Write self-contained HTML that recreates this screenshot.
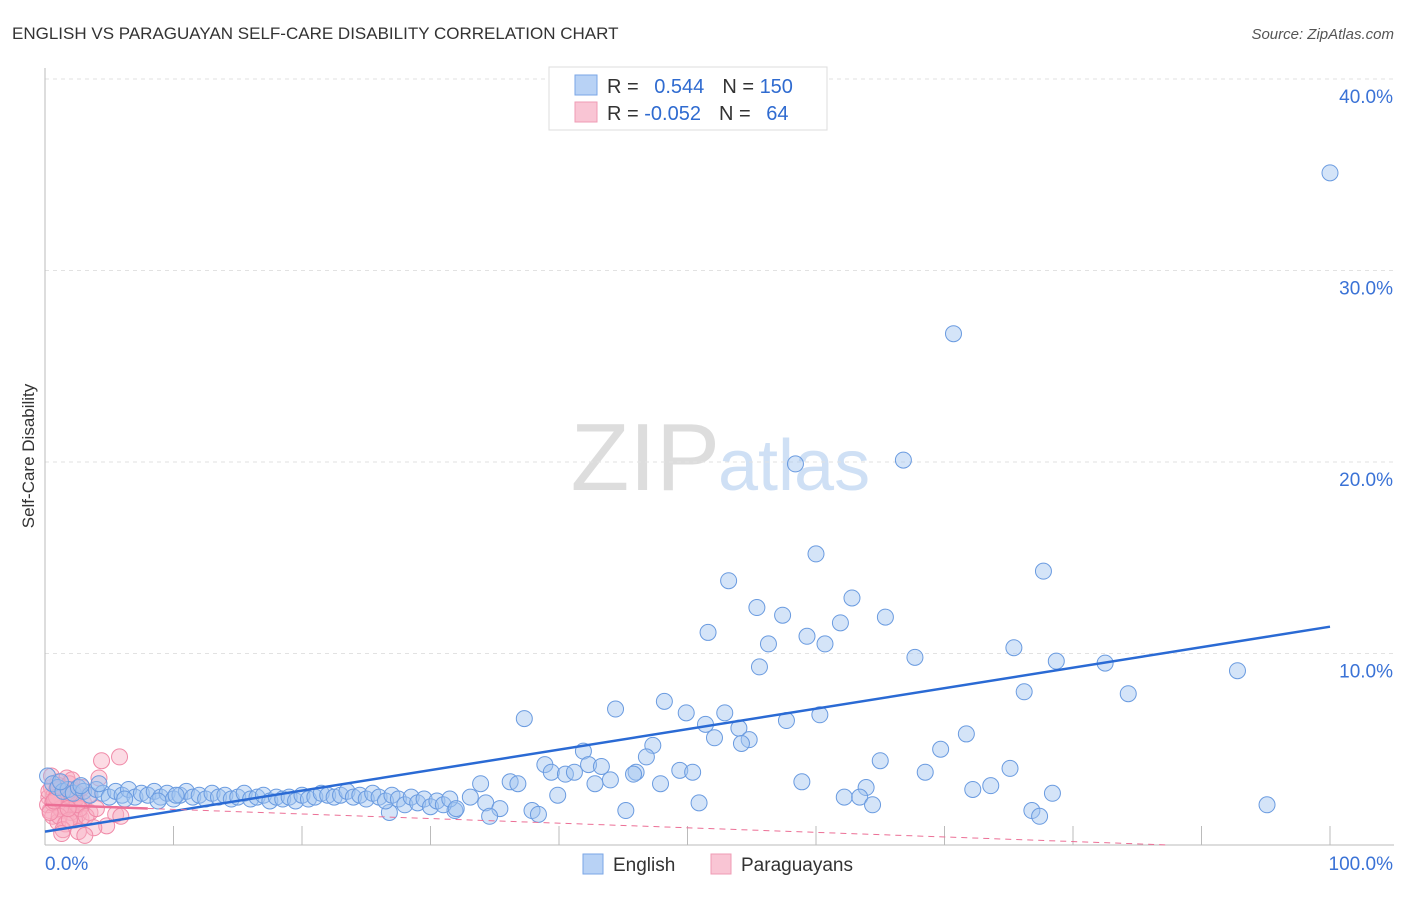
<!DOCTYPE html>
<html><head><meta charset="utf-8"><style>
body{margin:0;background:#fff;font-family:"Liberation Sans",sans-serif;}
svg text{font-family:"Liberation Sans",sans-serif;}
</style></head><body>
<svg id="chart" width="1406" height="892">
<text x="12" y="39" font-size="17" fill="#333">ENGLISH VS PARAGUAYAN SELF-CARE DISABILITY CORRELATION CHART</text>
<text x="1394" y="39" font-size="15" fill="#555" font-style="italic" text-anchor="end">Source: ZipAtlas.com</text>
<text x="34" y="456" font-size="17" fill="#333" transform="rotate(-90 34 456)" text-anchor="middle">Self-Care Disability</text>
<text x="720" y="490" font-size="96" fill="#ddd" text-anchor="end" font-family="Liberation Serif">ZIP</text>
<text x="718" y="490" font-size="72" fill="#cfe0f5">atlas</text>
<g id="grid"></g>
<g id="pts"></g>
<g id="lines"></g>
<g>
<rect x="549" y="67" width="278" height="63" fill="#fff" stroke="#ddd"/>
<rect x="575" y="75" width="22" height="20" fill="#b8d2f5" stroke="#7aa6e6"/>
<rect x="575" y="102" width="22" height="20" fill="#f9c5d4" stroke="#ef9bb4"/>
<text x="607" y="93" font-size="20" fill="#333">R = <tspan fill="#2f6bd0" dx="10">0.544</tspan><tspan fill="#333" dx="18">N = </tspan><tspan fill="#2f6bd0">150</tspan></text>
<text x="607" y="120" font-size="20" fill="#333">R = <tspan fill="#2f6bd0">-0.052</tspan><tspan fill="#333" dx="18">N = </tspan><tspan fill="#2f6bd0" dx="10">64</tspan></text>
</g>
<g>
<rect x="583" y="854" width="20" height="20" fill="#b8d2f5" stroke="#7aa6e6"/>
<text x="613" y="871" font-size="19" fill="#333">English</text>
<rect x="711" y="854" width="20" height="20" fill="#f9c5d4" stroke="#ef9bb4"/>
<text x="741" y="871" font-size="19" fill="#333">Paraguayans</text>
</g>
</svg>
<script>
const yTicks=[10,20,30,40];
const yTickLabels=["10.0%","20.0%","30.0%","40.0%"];
const xTickLabels=["0.0%","100.0%"];
const englishX=[100,70.7,58.4,66.8,60,77.7,53.2,62.8,55.4,57.4,65.4,61.9,51.6,59.3,56.3,60.7,75.4,67.7,78.7,82.5,55.6,92.8,76.2,84.3,48.2,44.4,49.9,52.9,60.3,37.3,51.4,57.7,54,52.1,71.7,54.8,54.2,47.3,41.9,69.7,46.8,65,38.9,42.3,43.3,75.1,68.5,39.4,40.5,41.2,46,49.4,50.4,45.8,44,33.9,36.2,36.8,58.9,42.8,47.9,63.9,73.6,72.2,78.4,39.9,62.2,63.4,50.9,64.4,95.1,34.3,33.1,35.4,37.9,38.4,45.2,76.8,77.4,34.6,26.8,31.9,
0.2,0.6,1,1.4,1.8,2.2,2.6,3,3.5,4,4.5,5,5.5,6,6.5,7,7.5,8,8.5,9,9.5,10,10.5,11,11.5,12,12.5,13,13.5,14,14.5,15,15.5,16,16.5,17,17.5,18,18.5,19,19.5,20,20.5,21,21.5,22,22.5,23,23.5,24,24.5,25,25.5,26,26.5,27,27.5,28,28.5,29,29.5,30,30.5,31,31.5,32,1.2,2.8,4.2,6.2,8.8,10.2];
const englishY=[35.1,26.7,19.9,20.1,15.2,14.3,13.8,12.9,12.4,12,11.9,11.6,11.1,10.9,10.5,10.5,10.3,9.8,9.6,9.5,9.3,9.1,8,7.9,7.5,7.1,6.9,6.9,6.8,6.6,6.3,6.5,6.1,5.6,5.8,5.5,5.3,5.2,4.9,5,4.6,4.4,4.2,4.2,4.1,4,3.8,3.8,3.7,3.8,3.8,3.9,3.8,3.7,3.4,3.2,3.3,3.2,3.3,3.2,3.2,3,3.1,2.9,2.7,2.6,2.5,2.5,2.2,2.1,2.1,2.2,2.5,1.9,1.8,1.6,1.8,1.8,1.5,1.5,1.7,1.8,
3.6,3.2,3,2.8,2.9,2.7,3,2.8,2.6,2.9,2.7,2.5,2.8,2.6,2.9,2.5,2.7,2.6,2.8,2.5,2.7,2.4,2.6,2.8,2.5,2.6,2.4,2.7,2.5,2.6,2.4,2.5,2.7,2.4,2.5,2.6,2.3,2.5,2.4,2.5,2.3,2.6,2.4,2.5,2.7,2.6,2.5,2.6,2.8,2.5,2.6,2.4,2.7,2.5,2.3,2.6,2.4,2.1,2.5,2.2,2.4,2,2.3,2.1,2.4,1.9,3.3,3.1,3.2,2.4,2.3,2.6];
const paraX=[0.3,0.5,0.8,1,1.2,1.5,1.7,2,2.3,2.5,0.4,0.7,1.1,1.4,1.8,2.1,2.6,3,0.2,0.6,0.9,1.3,1.6,1.9,2.2,2.8,3.4,0.5,1,1.5,2,2.4,2.9,0.3,0.8,1.2,1.7,2.3,3.5,4.2,4.8,5.8,5.5,0.6,1.1,1.6,2.1,2.7,0.4,0.9,1.4,1.9,2.5,3.2,4.4,3.8,1.3,2,2.6,0.7,1.8,3.1,4,5.9];
const paraY=[2.5,3,2.2,3.3,2,2.8,3.5,2.4,1.9,2.7,1.8,2.6,3.1,2.3,2,2.9,1.6,2.2,2.1,1.5,2.9,1.8,2.5,3.2,2.2,1.4,2.6,3.6,1.2,2,1.7,2.4,3,2.8,2.4,1.9,2.6,1.3,1.7,3.5,1,4.6,1.6,2.2,1.5,1.1,3.4,1.9,1.7,2.5,0.8,1.3,2.1,1.5,4.4,0.9,0.6,2.7,0.7,2.3,1.9,0.5,1.9,1.5];
const blueTrend=[0.7,11.4];
const pinkTrend=[2.1,-0.3];

const NS="http://www.w3.org/2000/svg";
const X0=45,X1=1330,Y0=845,PX=19.15;
const sx=v=>X0+(X1-X0)*v/100, sy=v=>Y0-PX*v;
function mk(tag,attrs,parent){const e=document.createElementNS(NS,tag);for(const k in attrs)e.setAttribute(k,attrs[k]);parent.appendChild(e);return e;}
const grid=document.getElementById('grid'),pts=document.getElementById('pts'),lines=document.getElementById('lines');
yTicks.forEach((t,i)=>{
 const l=mk('line',{x1:X0,x2:1394,y1:sy(t),y2:sy(t),stroke:'#e2e2e2','stroke-dasharray':'4,4'},grid);
 
 
 const tx=mk('text',{x:1393,y:sy(t)+24,'font-size':19,fill:'#3a72d6','text-anchor':'end'},grid);
 tx.textContent=yTickLabels[i];
 
 
});
const ax=mk('line',{x1:X0,x2:X0,y1:68,y2:Y0,stroke:'#bbb'},grid);


const bx=mk('line',{x1:X0,x2:1394,y1:Y0,y2:Y0,stroke:'#bbb'},grid);


for(let i=1;i<=10;i++){
 const t=mk('line',{x1:sx(i*10),x2:sx(i*10),y1:Y0-19,y2:Y0,stroke:'#bbb'},grid);
 
 
}
[[0,'start'],[100,'end']].forEach((p,i)=>{
 const t=mk('text',{x:i?1393:X0,y:870,'font-size':19,fill:'#3a72d6','text-anchor':p[1]},grid);
 t.textContent=xTickLabels[i];
 
 
});
paraX.forEach((x,i)=>{
 const c=mk('circle',{cx:sx(x),cy:sy(paraY[i]),r:8,fill:'rgba(248,175,196,0.45)',stroke:'#f08aa8','stroke-width':1},pts);
 
 
});
englishX.forEach((x,i)=>{
 const c=mk('circle',{cx:sx(x),cy:sy(englishY[i]),r:8,fill:'rgba(160,196,240,0.45)',stroke:'#6a9be0','stroke-width':1},pts);
 
 
});
const bt=mk('line',{x1:sx(0),y1:sy(blueTrend[0]),x2:sx(100),y2:sy(blueTrend[1]),stroke:'#2a6ad4','stroke-width':2.5},lines);


const xEnd=Math.min(100,pinkTrend[0]/(pinkTrend[0]-pinkTrend[1])*100);
const yAt=x=>pinkTrend[0]+(pinkTrend[1]-pinkTrend[0])*x/100;
const ps=mk('line',{x1:sx(0),y1:sy(pinkTrend[0]),x2:sx(8),y2:sy(yAt(8)),stroke:'#ec6f96','stroke-width':2.5},lines);


const pd=mk('line',{x1:sx(8),y1:sy(yAt(8)),x2:sx(xEnd),y2:sy(yAt(xEnd)),stroke:'#ec6f96','stroke-width':1,'stroke-dasharray':'6,5'},lines);


</script>
</body></html>
